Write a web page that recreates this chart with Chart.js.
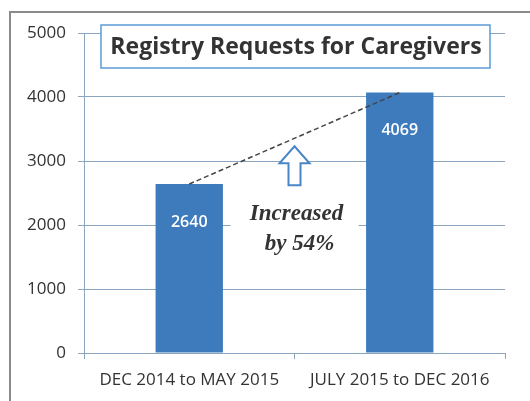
<!DOCTYPE html>
<html>
<head>
<meta charset="utf-8">
<script src="https://cdn.jsdelivr.net/npm/chart.js@4"></script>
<style>
  html, body { margin: 0; padding: 0; background: #fff; }
  #wrap { width: 530px; height: 401px; position: relative; }
</style>
</head>
<body>
<div id="wrap"><canvas id="regChart" width="530" height="401"></canvas></div>
<script>
const periods = ['DEC 2014 to MAY 2015', 'JULY 2015 to DEC 2016'];
const requests = [2640, 4069];
const yTicks = [0, 1000, 2000, 3000, 4000, 5000];
const titleText = 'Registry Requests for Caregivers';
const noteLines = ['Increased', 'by 54%'];

// frame, title box, bar labels, arrow and note
const extras = {
    id: 'extras',
    beforeDraw(chart) {
        const c = chart.ctx;
        c.save();
        c.strokeStyle = '#8a8a8a';
        c.lineWidth = 2;
        c.strokeRect(10, 12, 540, 400);
        c.restore();
    },
    afterDraw(chart) {
        const c = chart.ctx;
        const xs = chart.scales.x, ys = chart.scales.y;
        c.save();

        // title box
        c.fillStyle = '#fff';
        c.fillRect(101, 25, 389, 43);
        c.strokeStyle = '#5b9bd5';
        c.lineWidth = 1.5;
        c.strokeRect(101, 25, 389, 43);
        c.fillStyle = '#333';
        let size = 24;
        c.font = 'bold ' + size + 'px "Open Sans"';
        while (c.measureText(titleText).width > 372 && size > 12) {
            size -= 0.5;
            c.font = 'bold ' + size + 'px "Open Sans"';
        }
        c.textAlign = 'center';
        c.textBaseline = 'middle';
        c.fillText(titleText, 296, 47);

        // value labels
        const bars = chart.getDatasetMeta(0).data;
        c.fillStyle = '#fff';
        c.font = '600 16px "Open Sans"';
        bars.forEach((b, i) => {
            c.fillText(String(requests[i]), b.x, b.y + 38);
        });

        // hollow arrow
        const ax = (xs.getPixelForValue(0) + xs.getPixelForValue(1)) / 2;
        const top = ys.getPixelForValue(3230), bot = ys.getPixelForValue(2620);
        const mid = top + 17;
        c.beginPath();
        c.moveTo(ax, top);
        c.lineTo(ax + 15, mid);
        c.lineTo(ax + 6, mid);
        c.lineTo(ax + 6, bot);
        c.lineTo(ax - 6, bot);
        c.lineTo(ax - 6, mid);
        c.lineTo(ax - 15, mid);
        c.closePath();
        c.fillStyle = '#fff';
        c.fill();
        c.strokeStyle = '#4a86c5';
        c.lineWidth = 2;
        c.stroke();

        // note on a white box
        const t1 = ys.getPixelForValue(2170), t2 = ys.getPixelForValue(1700);
        c.fillStyle = '#fff';
        c.fillRect(ax - 64, t1 - 16, 128, t2 - t1 + 32);
        c.fillStyle = '#333';
        c.font = 'italic bold 23px "Liberation Serif"';
        c.fillText(noteLines[0], ax + 2, t1);
        c.fillText(noteLines[1], ax + 5, t2);
        c.restore();
    }
};

new Chart(document.getElementById('regChart'), {
    type: 'bar',
    data: {
        labels: periods,
        datasets: [{
            data: requests,
            backgroundColor: '#3e7bbd',
            categoryPercentage: 1,
            barPercentage: 0.32,
            order: 2
        }, {
            type: 'line',
            data: requests,
            borderColor: '#444',
            borderWidth: 1.5,
            borderDash: [5, 3],
            pointRadius: 0,
            fill: false,
            order: 1
        }]
    },
    options: {
        responsive: false,
        animation: false,
        layout: { padding: { top: 33, right: 25, left: 0, bottom: 0 } },
        plugins: { legend: { display: false }, tooltip: { enabled: false } },
        scales: {
            x: {
                offset: true,
                grid: { drawOnChartArea: false, color: '#8aa6bf', tickLength: 6, offset: true },
                border: { color: '#8aa6bf' },
                ticks: { color: '#333', font: { family: 'Open Sans', size: 17 }, padding: 11 },
                afterFit(s) { s.height = 48; }
            },
            y: {
                min: 0,
                max: 5000,
                afterBuildTicks(s) { s.ticks = yTicks.map(v => ({ value: v })); },
                grid: { color: '#8aa6bf', tickLength: 6 },
                border: { color: '#8aa6bf' },
                ticks: {
                    color: '#333',
                    font: { family: 'Open Sans', size: 17 },
                    padding: 12,
                    callback: v => String(v)
                },
                afterFit(s) { s.width = 84; }
            }
        }
    },
    plugins: [extras]
});
</script>
</body>
</html>
